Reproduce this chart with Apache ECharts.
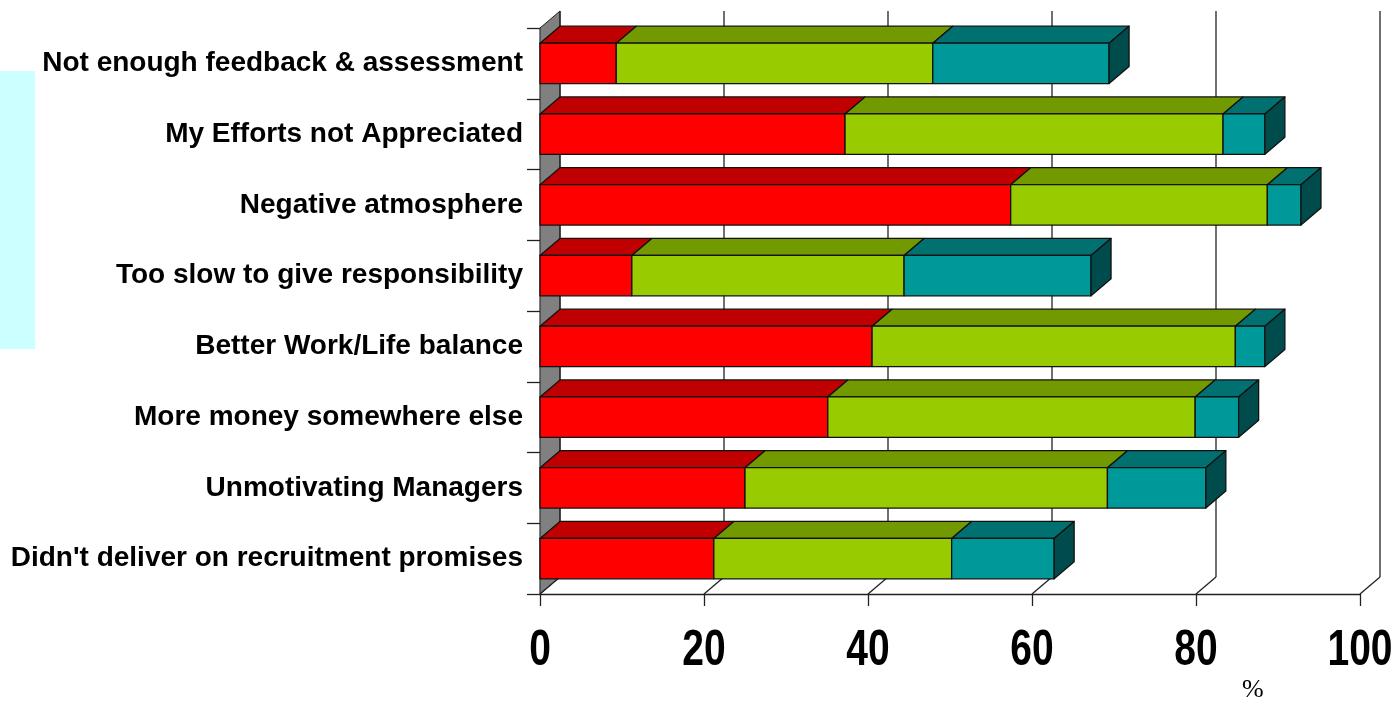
<!DOCTYPE html>
<html>
<head>
<meta charset="utf-8">
<script src="https://cdn.jsdelivr.net/npm/echarts@6.0.0/dist/echarts.min.js"></script>
<style>
  html, body { margin: 0; padding: 0; background: #fff; }
  #echarts_bar3d { width: 1399px; height: 708px; }
</style>
</head>
<body>
<div id="echarts_bar3d"></div>
<script>
'use strict';

// categories, top to bottom
const arrCategory = [
    'Not enough feedback & assessment',
    'My Efforts not Appreciated',
    'Negative atmosphere',
    'Too slow to give responsibility',
    'Better Work/Life balance',
    'More money somewhere else',
    'Unmotivating Managers',
    "Didn't deliver on recruitment promises"
];

// stacked segments (%)
const arrRed = [9.3, 37.2, 57.4, 11.2, 40.5, 35.1, 25.0, 21.2];
const arrGreen = [38.6, 46.1, 31.3, 33.2, 44.3, 44.8, 44.2, 29.0];
const arrTeal = [21.5, 5.1, 4.1, 22.8, 3.6, 5.3, 12.0, 12.5];

const arrTicks = [0, 20, 40, 60, 80, 100];

// depth of the fake 3d (px)
const DX = 20;
const DY = 17;

const chart = echarts.init(echarts_bar3d);

// build [start, end, index] items for one stack layer
const arrLayers = [arrRed, arrGreen, arrTeal];
const stackData = (k) => arrCategory.map((cat, i) => {
    let start = 0;
    for (let j = 0; j < k; j++) start += arrLayers[j][i];
    return [start, start + arrLayers[k][i], i];
});

const barStyles = [
    { front: '#ff0000', top: '#c00000', side: '#800000' },
    { front: '#99cc00', top: '#739900', side: '#4d6600' },
    { front: '#009999', top: '#007070', side: '#004c4c' }
];

const makeBar = (k) => ({
    type: 'custom',
    name: 'layer' + k,
    data: stackData(k),
    encode: { x: [0, 1], y: 2 },
    renderItem: (params, api) => {
        const s = api.coord([api.value(0), api.value(2)]);
        const e = api.coord([api.value(1), api.value(2)]);
        const h = api.size([0, 1])[1] * 0.57;
        const yTop = s[1] - h / 2;
        const yBot = s[1] + h / 2;
        const st = barStyles[k];
        const line = { stroke: '#111', lineWidth: 1.3, lineJoin: 'round' };
        const children = [{
            type: 'polygon',
            shape: { points: [[s[0], yTop], [s[0] + DX, yTop - DY], [e[0] + DX, yTop - DY], [e[0], yTop]] },
            style: Object.assign({ fill: st.top }, line)
        }, {
            type: 'rect',
            shape: { x: s[0], y: yTop, width: e[0] - s[0], height: h },
            style: Object.assign({ fill: st.front }, line)
        }];
        if (k === arrLayers.length - 1) {
            children.push({
                type: 'polygon',
                shape: { points: [[e[0], yTop], [e[0] + DX, yTop - DY], [e[0] + DX, yBot - DY], [e[0], yBot]] },
                style: Object.assign({ fill: st.side }, line)
            });
        }
        return { type: 'group', children: children };
    }
});

// back wall, floor, left wall and the (condensed) value labels
const frameSeries = {
    type: 'custom',
    name: 'frame',
    data: arrTicks.map(v => [v]),
    encode: { x: 0 },
    silent: true,
    renderItem: (params, api) => {
        const cs = params.coordSys;
        const v = api.value(0);
        const x = api.coord([v, 0])[0];
        const top = cs.y;
        const bot = cs.y + cs.height;
        const line = { stroke: '#222', lineWidth: 1.3 };
        const children = [{
            type: 'line',
            shape: { x1: x + DX, y1: top - DY, x2: x + DX, y2: bot - DY },
            style: line
        }, {
            type: 'line',
            shape: { x1: x, y1: bot, x2: x + DX, y2: bot - DY },
            style: line
        }, {
            type: 'text',
            x: x,
            y: bot + 57,
            scaleX: 0.78,
            style: {
                text: String(v),
                x: 0,
                y: 0,
                align: 'center',
                verticalAlign: 'middle',
                fill: '#000',
                font: 'bold 50px "Liberation Sans", Arial, sans-serif'
            }
        }];
        if (v === 0) {
            children.unshift({
                type: 'polygon',
                shape: { points: [[x, top], [x + DX, top - DY], [x + DX, bot - DY], [x, bot]] },
                style: { fill: '#808080', stroke: '#222', lineWidth: 1 }
            });
        }
        return { type: 'group', children: children };
    }
};

const option = {
    animation: false,
    backgroundColor: '#ffffff',
    grid: {
        left: 540,
        right: 39,
        top: 28,
        bottom: 114,
        containLabel: false,
        outerBoundsMode: 'none'
    },
    xAxis: {
        type: 'value',
        min: 0,
        max: 100,
        interval: 20,
        splitLine: { show: false },
        axisLine: { show: true, lineStyle: { color: '#222', width: 1.3 } },
        axisTick: { show: true, length: 12, lineStyle: { color: '#222', width: 1.3 } },
        axisLabel: { show: false }
    },
    yAxis: {
        type: 'category',
        inverse: true,
        data: arrCategory,
        splitLine: { show: false },
        axisLine: { show: true, lineStyle: { color: '#222', width: 1.3 } },
        axisTick: { show: true, length: 13, lineStyle: { color: '#222', width: 1.3 } },
        axisLabel: {
            margin: 17,
            padding: [6, 0, 0, 0],
            color: '#000',
            fontFamily: '"Liberation Sans", Arial',
            fontWeight: 'bold',
            fontSize: 28
        }
    },
    graphic: [{
        type: 'rect',
        left: 0,
        top: 71,
        shape: { width: 35, height: 278 },
        style: { fill: '#ccffff' }
    }, {
        type: 'text',
        left: 1242,
        top: 677,
        style: {
            text: '%',
            fill: '#000',
            font: '26px "Liberation Serif", serif'
        }
    }],
    series: [frameSeries, makeBar(0), makeBar(1), makeBar(2)]
};

chart.setOption(option);
</script>
</body>
</html>
